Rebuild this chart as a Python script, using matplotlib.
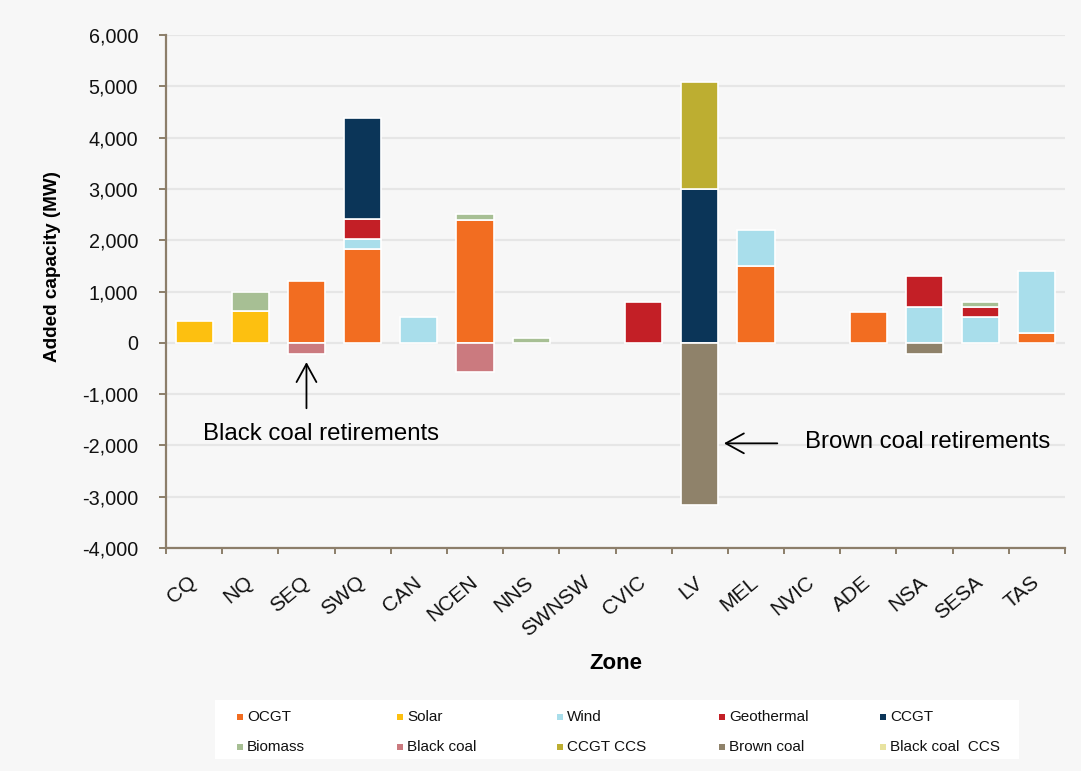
import matplotlib
matplotlib.use("Agg")
import matplotlib.pyplot as plt
from matplotlib.patches import Rectangle
import numpy as np

plt.rcParams['font.family'] = ['Liberation Sans', 'DejaVu Sans']

zones = ["CQ", "NQ", "SEQ", "SWQ", "CAN", "NCEN", "NNS", "SWNSW",
         "CVIC", "LV", "MEL", "NVIC", "ADE", "NSA", "SESA", "TAS"]

ocgt =           [0,   0, 1200, 1820,   0, 2400,   0, 0,   0,     0, 1500, 0, 600,    0,   0,  190]
solar =          [420, 620,  0,    0,   0,    0,   0, 0,   0,     0,    0, 0,   0,    0,   0,    0]
wind =           [0,   0,    0,  200, 500,    0,   0, 0,   0,     0,  700, 0,   0,  700, 500, 1200]
geothermal =     [0,   0,    0,  400,   0,    0,   0, 0, 800,     0,    0, 0,   0,  600, 200,    0]
ccgt =           [0,   0,    0, 1960,   0,    0,   0, 0,   0,  3000,    0, 0,   0,    0,   0,    0]
biomass =        [0, 380,    0,    0,   0,  120, 100, 0,   0,     0,    0, 0,   0,    0, 100,    0]
black_coal =     [0,   0, -220,    0,   0, -570,   0, 0,   0,     0,    0, 0,   0,    0,   0,    0]
ccgt_ccs =       [0,   0,    0,    0,   0,    0,   0, 0,   0,  2090,    0, 0,   0,    0,   0,    0]
brown_coal =     [0,   0,    0,    0,   0,    0,   0, 0,   0, -3170,    0, 0,   0, -220,   0,    0]
black_coal_ccs = [0,   0,    0,    0,   0,    0,   0, 0,   0,     0,    0, 0,   0,    0,   0,    0]

series_names = ["OCGT", "Solar", "Wind", "Geothermal", "CCGT",
                "Biomass", "Black coal", "CCGT CCS", "Brown coal", "Black coal  CCS"]
series_values = [ocgt, solar, wind, geothermal, ccgt,
                 biomass, black_coal, ccgt_ccs, brown_coal, black_coal_ccs]
series_colors = ["#F26D21", "#FDC010", "#A9DEEB", "#C31F26", "#0B3558",
                 "#A7BF94", "#CB7A7F", "#BDAE31", "#8F826A", "#E8E3A0"]

bg = "#F7F7F7"
axis_col = "#8C7E6A"

fig = plt.figure(figsize=(10.81, 7.71), dpi=100, facecolor=bg)
ax = fig.add_axes([166 / 1081, 1 - 548 / 771, 899 / 1081, 513 / 771])
ax.set_facecolor(bg)

x = np.arange(len(zones))
pos_base = np.zeros(len(zones))
neg_base = np.zeros(len(zones))
for vals, col in zip(series_values, series_colors):
    v = np.array(vals, dtype=float)
    pos = np.where(v > 0, v, 0)
    neg = np.where(v < 0, v, 0)
    mask_p = pos > 0
    mask_n = neg < 0
    if mask_p.any():
        ax.bar(x[mask_p], pos[mask_p], bottom=pos_base[mask_p], width=0.66,
               color=col, edgecolor="white", linewidth=1.2, zorder=3)
    if mask_n.any():
        ax.bar(x[mask_n], neg[mask_n], bottom=neg_base[mask_n], width=0.66,
               color=col, edgecolor="white", linewidth=1.2, zorder=3)
    pos_base += pos
    neg_base += neg

ax.set_xlim(-0.5, len(zones) - 0.5)
ax.set_ylim(-4000, 6000)
ax.set_yticks(np.arange(-4000, 6001, 1000))
ax.yaxis.set_major_formatter(matplotlib.ticker.FuncFormatter(lambda v, p: f"{int(v):,}"))
ax.grid(axis="y", color="#E6E6E6", linewidth=1.6, zorder=0)
ax.set_axisbelow(True)

for s in ["top", "right"]:
    ax.spines[s].set_visible(False)
for s in ["left", "bottom"]:
    ax.spines[s].set_color(axis_col)
    ax.spines[s].set_linewidth(1.6)

ax.tick_params(axis="y", direction="out", length=5, width=1.4, color=axis_col,
               labelsize=14.2, pad=15, labelcolor="#111111")

# category labels at centres, tick marks at category boundaries
ax.set_xticks(x)
ax.set_xticklabels(zones, rotation=40, ha="right", va="center",
                   rotation_mode="anchor", fontsize=15, color="#111111")
ax.tick_params(axis="x", which="major", length=0, pad=23)
ax.set_xticks(np.arange(-0.5, len(zones), 1.0), minor=True)
ax.tick_params(axis="x", which="minor", direction="out", length=4,
               width=1.4, color=axis_col)

ax.set_ylabel("Added capacity (MW)", fontsize=13.6, fontweight="bold")
ax.yaxis.set_label_coords(-0.117, 0.548)
ax.set_xlabel("Zone", fontsize=16, fontweight="bold")
ax.xaxis.set_label_coords(0.5, -0.205)

# retirement annotations
arrow_style = dict(arrowstyle="->,head_length=1.0,head_width=0.55",
                   lw=1.3, color="black", mutation_scale=13, shrinkA=0, shrinkB=0)
ax.annotate("", xy=(2, -377), xytext=(2, -1276), arrowprops=arrow_style, zorder=5)
ax.text(0.15, -1900, "Black coal retirements", fontsize=17.3, ha="left", va="baseline")
ax.annotate("", xy=(9.43, -1960), xytext=(10.38, -1960), arrowprops=arrow_style, zorder=5)
ax.text(10.88, -2060, "Brown coal retirements", fontsize=17.3, ha="left", va="baseline")

# legend panel
W, H = 1081, 771
fig.patches.append(Rectangle((215 / W, 1 - 759 / H), (1019 - 215) / W, 59 / H,
                             transform=fig.transFigure, facecolor="white",
                             edgecolor="none", zorder=1))
col_x = [240, 400, 560, 722, 883]
row_y = [717, 747]
for i, (name, col) in enumerate(zip(series_names, series_colors)):
    cx = col_x[i % 5]
    cy = row_y[i // 5]
    fig.patches.append(Rectangle(((cx - 3) / W, 1 - (cy + 3) / H), 6 / W, 6 / H,
                                 transform=fig.transFigure, facecolor=col,
                                 edgecolor="none", zorder=2))
    fig.text((cx + 7) / W, 1 - cy / H, name, fontsize=11, ha="left", va="center",
             color="#111111", zorder=3)

fig.savefig("out.png", dpi=100, facecolor=bg)
